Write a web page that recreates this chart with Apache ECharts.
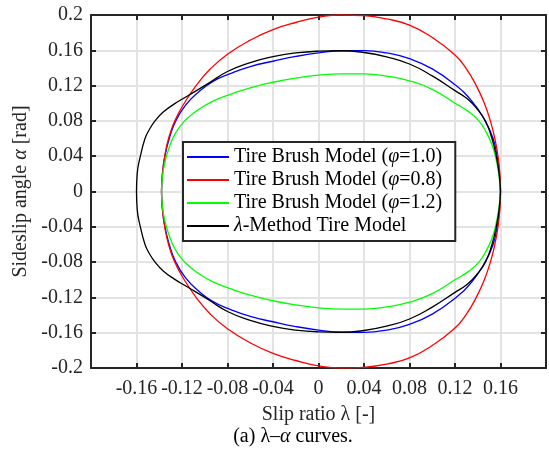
<!DOCTYPE html>
<html>
<head>
<meta charset="utf-8">
<script src="https://cdn.jsdelivr.net/npm/echarts@6/dist/echarts.min.js"></script>
<style>html,body{margin:0;padding:0;background:#fff;}#c{width:549px;height:459px;}</style>
</head>
<body>
<div id="c"></div>
<script>
// Axis limits and tick labels
const xMin = -0.2, xMax = 0.2, xStep = 0.04;
const yMin = -0.2, yMax = 0.2, yStep = 0.04;
const xTickLabels = ['-0.2','-0.16','-0.12','-0.08','-0.04','0','0.04','0.08','0.12','0.16','0.2'];
const yTickLabels = ['-0.2','-0.16','-0.12','-0.08','-0.04','0','0.04','0.08','0.12','0.16','0.2'];

const seriesNames = ['Tire Brush Model (φ=1.0)','Tire Brush Model (φ=0.8)','Tire Brush Model (φ=1.2)','λ-Method Tire Model'];

// [slip ratio λ, sideslip angle α] (closed curves)
const brushPhi10 = [
  [0.160,0],[0.1592,0.020],[0.157,0.040],[0.1535,0.060],[0.1465,0.080],[0.135,0.102],[0.120,0.121],[0.100,0.139],
  [0.080,0.1505],[0.060,0.157],[0.040,0.1596],[0.020,0.1595],[0.000,0.157],[-0.020,0.153],[-0.040,0.1476],
  [-0.060,0.1416],[-0.0777,0.1335],[-0.0927,0.1247],[-0.1059,0.1122],[-0.117,0.0975],[-0.1255,0.080],[-0.1312,0.060],
  [-0.135,0.040],[-0.1372,0.020],[-0.138,0],
  [-0.1372,-0.020],[-0.135,-0.040],[-0.1312,-0.060],[-0.1255,-0.080],[-0.117,-0.0975],[-0.1059,-0.1122],[-0.0927,-0.1247],
  [-0.0777,-0.1335],[-0.060,-0.1416],[-0.040,-0.1476],[-0.020,-0.153],[0.000,-0.157],[0.020,-0.1595],[0.040,-0.1596],
  [0.060,-0.157],[0.080,-0.1505],[0.100,-0.139],[0.120,-0.121],[0.135,-0.102],[0.1465,-0.080],[0.1535,-0.060],
  [0.157,-0.040],[0.1592,-0.020],[0.160,0]
];
const brushPhi08 = [
  [0.160,0],[0.1594,0.020],[0.1578,0.040],[0.155,0.060],[0.1511,0.080],[0.1458,0.100],[0.1387,0.120],[0.130,0.139],
  [0.120,0.1547],[0.100,0.1745],[0.080,0.1885],[0.060,0.1955],[0.040,0.1992],[0.020,0.200],[0.000,0.1975],
  [-0.020,0.1915],[-0.040,0.1835],[-0.060,0.1715],[-0.080,0.1555],[-0.095,0.139],[-0.107,0.121],[-0.118,0.100],
  [-0.1264,0.080],[-0.1318,0.060],[-0.1352,0.040],[-0.1372,0.020],[-0.138,0],
  [-0.1372,-0.020],[-0.1352,-0.040],[-0.1318,-0.060],[-0.1264,-0.080],[-0.118,-0.100],[-0.107,-0.121],[-0.095,-0.139],
  [-0.080,-0.1555],[-0.060,-0.1715],[-0.040,-0.1835],[-0.020,-0.1915],[0.000,-0.1975],[0.020,-0.200],[0.040,-0.1992],
  [0.060,-0.1955],[0.080,-0.1885],[0.100,-0.1745],[0.120,-0.1547],[0.130,-0.139],[0.1387,-0.120],[0.1458,-0.100],
  [0.1511,-0.080],[0.155,-0.060],[0.1578,-0.040],[0.1594,-0.020],[0.160,0]
];
const brushPhi12 = [
  [0.160,0],[0.1585,0.020],[0.1555,0.040],[0.1522,0.054],[0.1475,0.067],[0.141,0.080],[0.132,0.0905],[0.120,0.100],
  [0.100,0.1158],[0.080,0.1254],[0.060,0.1308],[0.040,0.1332],[0.020,0.1333],[0.000,0.1318],[-0.020,0.1285],
  [-0.040,0.1238],[-0.060,0.1175],[-0.0777,0.110],[-0.0927,0.1025],[-0.1059,0.0925],[-0.117,0.0808],[-0.1255,0.0667],
  [-0.1312,0.050],[-0.135,0.0333],[-0.1372,0.0167],[-0.138,0],
  [-0.1372,-0.0167],[-0.135,-0.0333],[-0.1312,-0.050],[-0.1255,-0.0667],[-0.117,-0.0808],[-0.1059,-0.0925],[-0.0927,-0.1025],
  [-0.0777,-0.110],[-0.060,-0.1175],[-0.040,-0.1238],[-0.020,-0.1285],[0.000,-0.1318],[0.020,-0.1333],[0.040,-0.1332],
  [0.060,-0.1308],[0.080,-0.1254],[0.100,-0.1158],[0.120,-0.100],[0.132,-0.0905],[0.141,-0.080],[0.1475,-0.067],
  [0.1522,-0.054],[0.1555,-0.040],[0.1585,-0.020],[0.160,0]
];
const lambdaMethod = [
  [0.160,0],[0.1588,0.020],[0.1563,0.040],[0.1525,0.060],[0.1467,0.080],[0.1388,0.0946],[0.1305,0.1053],[0.120,0.1143],
  [0.100,0.131],[0.080,0.1445],[0.060,0.1525],[0.040,0.1575],[0.020,0.1595],[0.000,0.159],[-0.020,0.157],
  [-0.040,0.1528],[-0.060,0.146],[-0.080,0.136],[-0.0968,0.1225],[-0.1155,0.108],[-0.127,0.099],[-0.1365,0.090],
  [-0.1437,0.080],[-0.1488,0.070],[-0.1525,0.060],[-0.1566,0.040],[-0.1594,0.020],[-0.160,0],
  [-0.1594,-0.020],[-0.1566,-0.040],[-0.1525,-0.060],[-0.1488,-0.070],[-0.1437,-0.080],[-0.1365,-0.090],[-0.127,-0.099],
  [-0.1155,-0.108],[-0.0968,-0.1225],[-0.080,-0.136],[-0.060,-0.146],[-0.040,-0.1528],[-0.020,-0.157],[0.000,-0.159],
  [0.020,-0.1595],[0.040,-0.1575],[0.060,-0.1525],[0.080,-0.1445],[0.100,-0.131],[0.120,-0.1143],[0.1305,-0.1053],
  [0.1388,-0.0946],[0.1467,-0.080],[0.1525,-0.060],[0.1563,-0.040],[0.1588,-0.020],[0.160,0]
];
const seriesData = [brushPhi10, brushPhi08, brushPhi12, lambdaMethod];
const seriesColors = ['#0000ff','#ff0000','#00ff00','#000000'];

const FONT = '"Liberation Serif", "Times New Roman", serif';
const TXT = '#262626';
const AX = '#262626';
const GRID = '#e3e3e3';

function fmtX(v){ const i = Math.round((v - xMin)/xStep); return xTickLabels[i] ?? ''; }
function fmtY(v){ const i = Math.round((v - yMin)/yStep); return yTickLabels[i] ?? ''; }

const rich = {
  n: {fontFamily: FONT, fontSize: 20, color: TXT},
  i: {fontFamily: FONT, fontSize: 20, color: TXT, fontStyle: 'italic'}
};
const legendRich = {
  n: {fontFamily: FONT, fontSize: 20, color: '#000'},
  i: {fontFamily: FONT, fontSize: 20, color: '#000', fontStyle: 'italic'}
};

function legendFmt(name){
  if (name.indexOf('φ') >= 0) {
    const parts = name.split('φ');
    return '{n|' + parts[0] + '}{i|φ}{n|' + parts[1] + '}';
  }
  return '{i|λ}{n|' + name.slice(1) + '}';
}

const baseAxis = {
  axisLine: {show: true, onZero: false, lineStyle: {color: AX, width: 2}},
  axisTick: {show: true, inside: true, length: 5, lineStyle: {color: AX, width: 2}},
};

const chart = echarts.init(document.getElementById('c'), null, {renderer: 'canvas'});
chart.setOption({
  animation: false,
  backgroundColor: '#fff',
  grid: {left: 91, right: 3, top: 15, bottom: 91, containLabel: false},
  xAxis: [
    Object.assign({}, baseAxis, {
      type: 'value', min: xMin, max: xMax, interval: xStep, position: 'bottom',
      axisLabel: {formatter: fmtX, fontFamily: FONT, fontSize: 20, color: TXT, margin: 11, showMinLabel: false, showMaxLabel: false},
      splitLine: {show: true, lineStyle: {color: GRID, width: 2}},
      name: 'Slip ratio λ [-]', nameLocation: 'middle', nameGap: 37,
      nameTextStyle: {fontFamily: FONT, fontSize: 20, color: TXT}
    }),
    Object.assign({}, baseAxis, {
      type: 'value', min: xMin, max: xMax, interval: xStep, position: 'top',
      axisLabel: {show: false}, splitLine: {show: false}
    })
  ],
  yAxis: [
    Object.assign({}, baseAxis, {
      type: 'value', min: yMin, max: yMax, interval: yStep, position: 'left',
      axisLabel: {formatter: fmtY, fontFamily: FONT, fontSize: 20, color: TXT, margin: 8},
      splitLine: {show: true, lineStyle: {color: GRID, width: 2}},
      name: 'Sideslip angle {i|α} [rad]', nameLocation: 'middle', nameGap: 56, nameRotate: 90,
      nameTextStyle: {fontFamily: FONT, fontSize: 20, color: TXT, rich: rich}
    }),
    Object.assign({}, baseAxis, {
      type: 'value', min: yMin, max: yMax, interval: yStep, position: 'right',
      axisLabel: {show: false}, splitLine: {show: false}
    })
  ],
  legend: {
    orient: 'vertical', left: 183, top: 142,
    padding: [5, 13, 5, 4], itemGap: 3, itemWidth: 42, itemHeight: 2, icon: 'rect',
    backgroundColor: '#fff', borderColor: AX, borderWidth: 2,
    formatter: legendFmt,
    textStyle: {fontFamily: FONT, fontSize: 20, color: '#000', rich: legendRich},
    data: seriesNames
  },
  graphic: [{
    type: 'text', x: 293, y: 437,
    style: {
      text: '(a) {n|λ}–{i|α} curves.',
      rich: rich, fontFamily: FONT, fontSize: 20, fill: '#000',
      align: 'center', verticalAlign: 'middle'
    }
  }],
  series: seriesNames.map((nm, k) => ({
    name: nm, type: 'line', data: seriesData[k], smooth: 0.5,
    showSymbol: false, symbol: 'none', silent: true,
    lineStyle: {color: seriesColors[k], width: 1.3},
    itemStyle: {color: seriesColors[k]},
    z: 2 + k
  }))
});
</script>
</body>
</html>
